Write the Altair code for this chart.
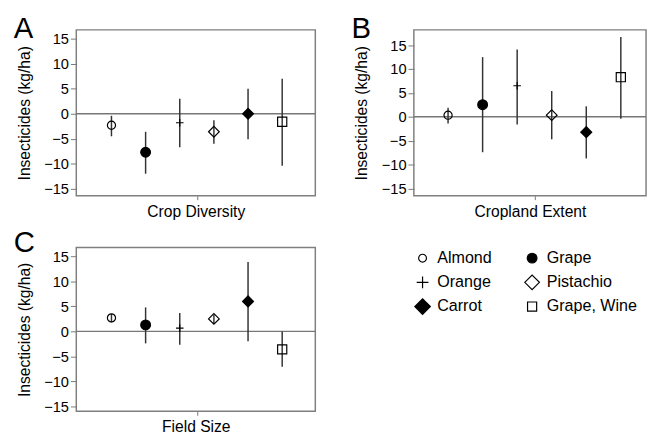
import altair as alt
import pandas as pd

FONT = "Liberation Sans"

crops = ["Almond", "Grape", "Orange", "Pistachio", "Carrot", "Grape, Wine"]
shapes = ["circle", "circle", "M-1,0L1,0M0,-1L0,1", "diamond", "diamond", "square"]
fills = ["transparent", "black", "transparent", "transparent", "black", "transparent"]
sizes = [70, 100, 60, 120, 125, 88]
legend_sizes = [64, 100, 144, 225, 256, 87]

# Panel A: Crop Diversity
a_est = [-2.3, -7.7, -1.8, -3.6, 0.0, -1.6]
a_lo = [-4.5, -12.0, -6.7, -6.0, -5.1, -10.4]
a_hi = [-0.4, -3.6, 3.0, -1.3, 5.0, 7.0]

# Panel B: Cropland Extent
b_est = [0.35, 2.55, 6.5, 0.35, -3.2, 8.3]
b_lo = [-1.4, -7.4, -1.6, -4.7, -8.7, -0.4]
b_hi = [1.9, 12.5, 14.1, 5.4, 2.2, 16.7]

# Panel C: Field Size
c_est = [2.7, 1.3, 0.65, 2.5, 6.0, -3.6]
c_lo = [1.8, -2.4, -2.7, 1.5, -2.0, -7.1]
c_hi = [3.5, 4.8, 3.7, 3.3, 13.9, 0.0]

y_ticks = [-15, -10, -5, 0, 5, 10, 15]

shape_scale = alt.Scale(domain=crops, range=shapes)
fill_scale = alt.Scale(domain=crops, range=fills)


def panel(est, lo, hi, xtitle, letter, ydom, width, height, xdom, letter_y):
    df = pd.DataFrame({"crop": crops, "pos": list(range(1, len(crops) + 1)),
                       "est": est, "lo": lo, "hi": hi})
    x = alt.X("pos:Q",
              scale=alt.Scale(domain=xdom, nice=False, zero=False),
              axis=alt.Axis(values=[3.5], labels=False, grid=False, domain=False,
                            tickSize=4, tickColor="#777777", tickWidth=1,
                            title=xtitle, titleFontSize=16, titleFontWeight="normal",
                            titlePadding=3.5, titleColor="black"))
    yscale = alt.Scale(domain=ydom, nice=False, zero=False)
    yaxis = alt.Axis(values=y_ticks, grid=False, domain=False, tickSize=6,
                     tickColor="#777777", tickWidth=1, labelPadding=2,
                     labelFontSize=15, labelColor="black",
                     title="Insecticides (kg/ha)", titleFontSize=16,
                     titleFontWeight="normal", titlePadding=12, titleColor="black")

    zero = alt.Chart(pd.DataFrame({"zero": [0]})).mark_rule(
        color="#777777", strokeWidth=1.5).encode(
        y=alt.Y("zero:Q", scale=yscale, axis=yaxis))

    bars = alt.Chart(df).mark_rule(color="#333333", strokeWidth=1.5).encode(
        x=x, y=alt.Y("lo:Q", scale=yscale, axis=yaxis), y2="hi:Q")

    pts = alt.Chart(df).mark_point(opacity=1, stroke="black", strokeWidth=1.2).encode(
        x=x,
        y=alt.Y("est:Q", scale=yscale, axis=yaxis),
        shape=alt.Shape("crop:N", scale=shape_scale, legend=None),
        fill=alt.Fill("crop:N", scale=fill_scale, legend=None),
        size=alt.Size("crop:N", scale=alt.Scale(type="ordinal", domain=crops, range=sizes),
                      legend=None),
    )

    lab = alt.Chart(pd.DataFrame({"t": [letter]})).mark_text(
        align="left", baseline="alphabetic", fontSize=30, font=FONT, color="black"
    ).encode(text="t:N", x=alt.value(-64), y=alt.value(letter_y))

    return alt.layer(zero, bars, pts, lab).properties(width=width, height=height)


pA = panel(a_est, a_lo, a_hi, "Crop Diversity", "A", [-16.4, 16.8], 245, 170, [-0.03, 6.97], 8)
pB = panel(b_est, b_lo, b_hi, "Cropland Extent", "B", [-16.5, 18.2], 238, 170, [0.01, 6.73], 8)
pC = panel(c_est, c_lo, c_hi, "Field Size", "C", [-16.0, 16.8], 245, 168, [-0.03, 6.97], 5)

# Legend (2 columns x 3 rows), drawn beside panel C
leg_df = pd.DataFrame({
    "crop": crops,
    "col": [i % 2 for i in range(len(crops))],
    "row": [i // 2 for i in range(len(crops))],
})
lx = alt.X("col:Q", scale=alt.Scale(domain=[-3.161, -0.979], nice=False, zero=False), axis=None)
ly = alt.Y("row:Q", scale=alt.Scale(domain=[-0.4435, 6.331], nice=False, zero=False,
                                    reverse=True), axis=None)
leg_pts = alt.Chart(leg_df).mark_point(opacity=1, stroke="black", strokeWidth=1.2).encode(
    x=lx, y=ly,
    shape=alt.Shape("crop:N", scale=shape_scale, legend=None),
    fill=alt.Fill("crop:N", scale=fill_scale, legend=None),
    size=alt.Size("crop:N", scale=alt.Scale(type="ordinal", domain=crops, range=legend_sizes),
                  legend=None),
)
leg_txt = alt.Chart(leg_df).mark_text(
    align="left", baseline="middle", dx=15, fontSize=16.5, font=FONT, color="black"
).encode(x=lx, y=ly, text="crop:N")
legend = alt.layer(leg_pts, leg_txt)

pC_full = alt.layer(pC, legend).resolve_scale(
    x="independent", y="independent", size="independent"
)

chart = alt.vconcat(
    alt.hconcat(pA, pB, spacing=34),
    pC_full,
    spacing=8,
).properties(
    padding={"left": 5, "top": 0, "right": 0, "bottom": 0}
).configure(font=FONT).configure_view(
    stroke="#7f7f7f", strokeWidth=1.5
)

chart.save("out.html", embed_options={"renderer": "svg", "actions": False})
